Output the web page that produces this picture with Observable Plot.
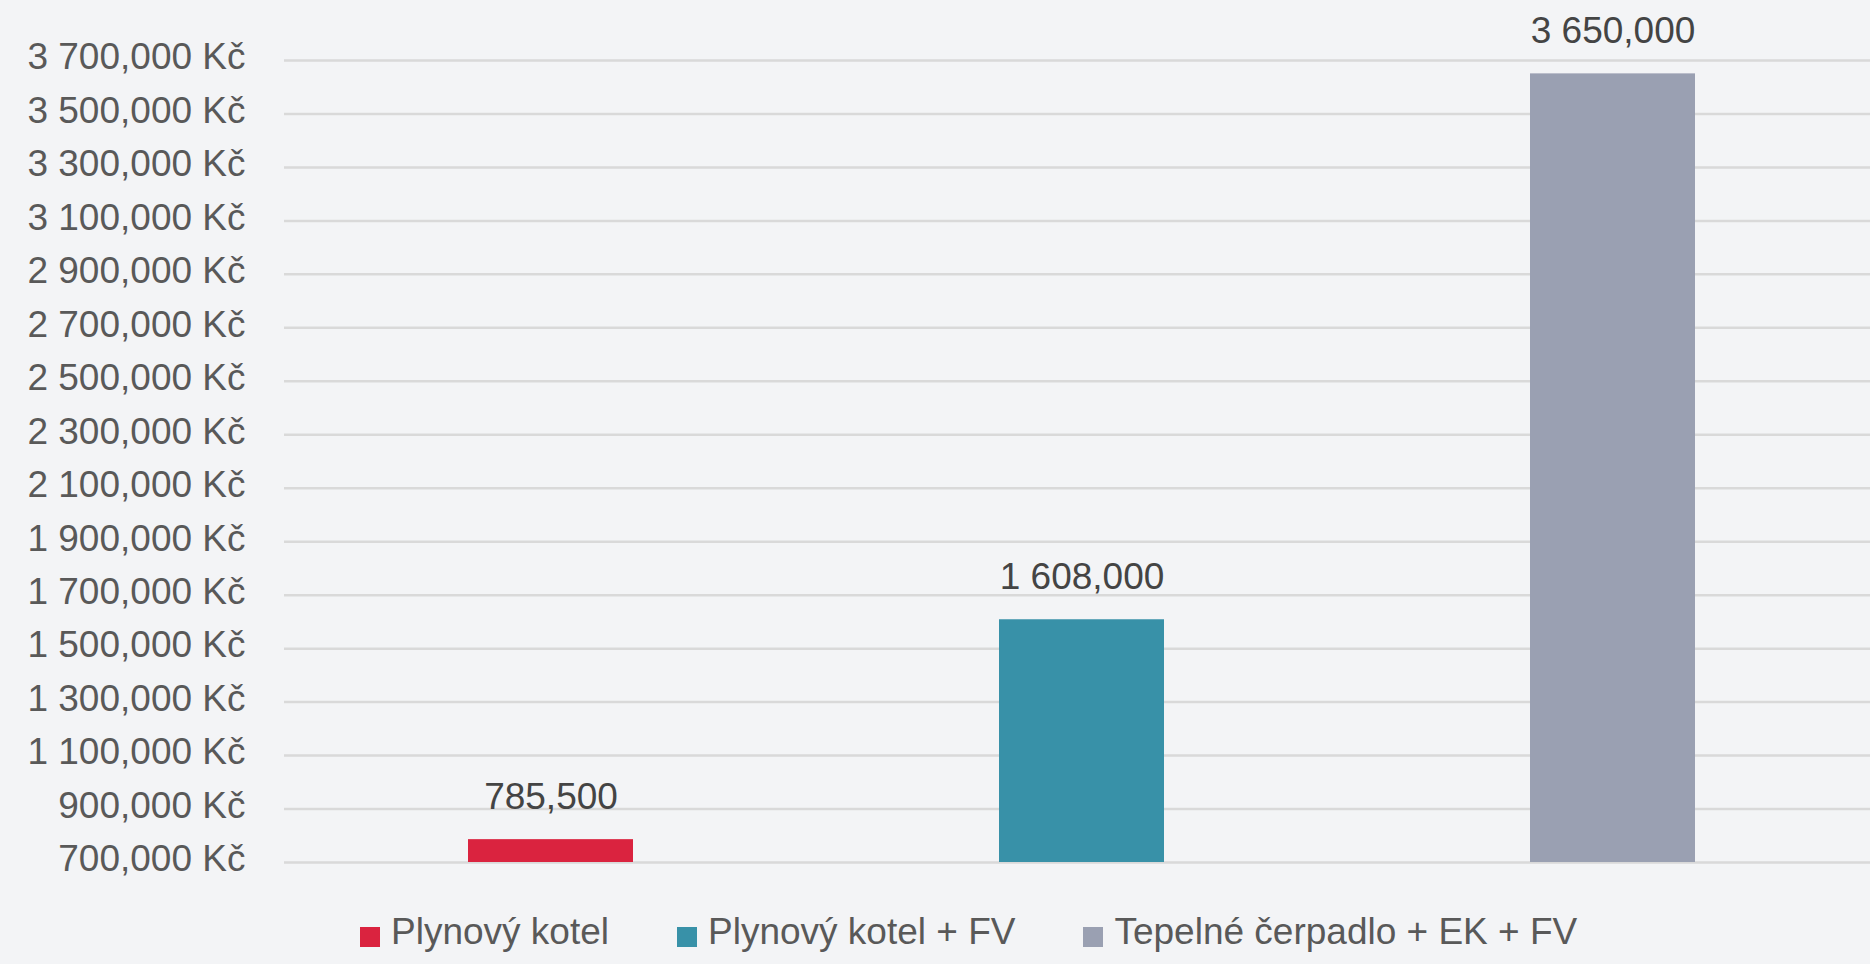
<!DOCTYPE html>
<html>
<head>
<meta charset="utf-8">
<script src="https://cdn.jsdelivr.net/npm/d3@7"></script>
<script src="https://cdn.jsdelivr.net/npm/@observablehq/plot@0.6"></script>
<style>
  html, body { margin: 0; padding: 0; background: #f3f4f6; overflow: hidden; }
  body { width: 1870px; height: 964px; font-family: "Liberation Sans", Arial, sans-serif; }
  #legend { display: flex; align-items: center; height: 64px; padding-left: 360px; font-size: 37px; color: #595959; }
  .item { display: flex; align-items: center; margin-right: 68px; }
  .sw { width: 20px; height: 20px; margin-right: 11px; position: relative; top: 5px; }
</style>
</head>
<body>
<div id="chart"></div>
<div id="legend"></div>
<script>
const categories = ["Plynový kotel", "Plynový kotel + FV", "Tepelné čerpadlo + EK + FV"];
const values = [785500, 1608000, 3650000];
const valueLabels = ["785,500", "1 608,000", "3 650,000"];
const colors = ["#da233f", "#3891a8", "#9aa0b2"];
const yTicks = [700000, 900000, 1100000, 1300000, 1500000, 1700000, 1900000, 2100000, 2300000, 2500000, 2700000, 2900000, 3100000, 3300000, 3500000, 3700000];
const yTickLabels = ["700,000 Kč", "900,000 Kč", "1 100,000 Kč", "1 300,000 Kč", "1 500,000 Kč", "1 700,000 Kč", "1 900,000 Kč", "2 100,000 Kč", "2 300,000 Kč", "2 500,000 Kč", "2 700,000 Kč", "2 900,000 Kč", "3 100,000 Kč", "3 300,000 Kč", "3 500,000 Kč", "3 700,000 Kč"];

const data = categories.map((c, i) => ({category: c, value: values[i], label: valueLabels[i]}));
const tickLabel = new Map(yTicks.map((t, i) => [t, yTickLabels[i]]));

const chart = Plot.plot({
  width: 1870,
  height: 900,
  marginLeft: 284,
  marginRight: 0,
  marginTop: 60,
  marginBottom: 38,
  style: {background: "#f3f4f6", fontFamily: "Liberation Sans, Arial, sans-serif", fontSize: "37px", color: "#595959"},
  x: {domain: categories, range: [284, 1879], paddingInner: 0.69, paddingOuter: 0.345, axis: null},
  y: {domain: [700000, 3700000], axis: null},
  color: {domain: categories, range: colors},
  marks: [
    Plot.gridY(yTicks, {stroke: "#d9d9d9", strokeOpacity: 1, strokeWidth: 2.5}),
    Plot.axisY(yTicks, {label: null, tickSize: 0, tickPadding: 39, tickFormat: d => tickLabel.get(d), fill: "#595959", fontSize: 37, dy: -3}),
    Plot.barY(data, {x: "category", y1: 700000, y2: "value", fill: "category"}),
    Plot.text(data, {x: "category", y: "value", text: "label", lineAnchor: "bottom", dy: -31, fill: "#444", fontSize: 37})
  ]
});
document.getElementById("chart").appendChild(chart);

const legend = document.getElementById("legend");
categories.forEach((c, i) => {
  const item = document.createElement("div");
  item.className = "item";
  const sw = document.createElement("span");
  sw.className = "sw";
  sw.style.background = colors[i];
  const t = document.createElement("span");
  t.textContent = c;
  item.appendChild(sw);
  item.appendChild(t);
  legend.appendChild(item);
});
</script>
</body>
</html>
